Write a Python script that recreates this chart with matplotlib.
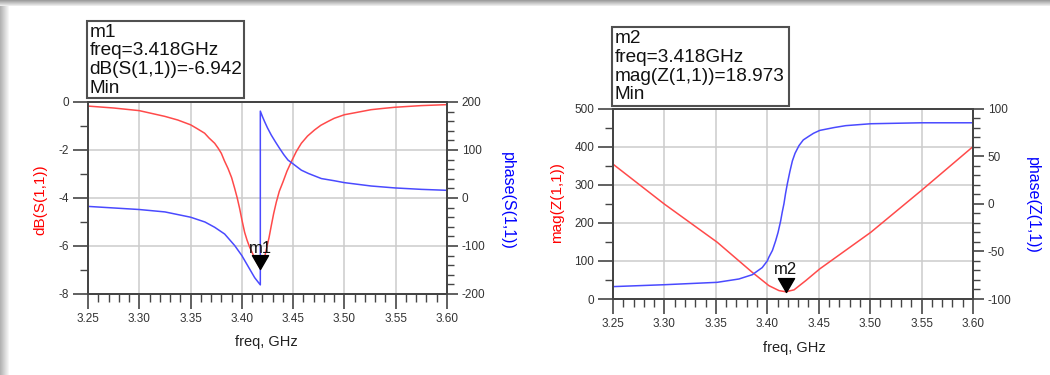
import matplotlib
matplotlib.use('Agg')
import matplotlib.pyplot as plt
from matplotlib.path import Path
from matplotlib.patches import Rectangle
from matplotlib.ticker import MultipleLocator, FormatStrFormatter

plt.rcParams['font.family'] = ['Liberation Sans', 'DejaVu Sans']
plt.rcParams['axes.unicode_minus'] = False

# ---------------- data ----------------
freq_db = [3.25, 3.275, 3.30, 3.325, 3.3375, 3.35, 3.356, 3.3637, 3.368, 3.3735,
           3.377, 3.38, 3.383, 3.3865, 3.390, 3.393, 3.3955, 3.3979, 3.400, 3.4027,
           3.405, 3.4076, 3.413, 3.418, 3.4215, 3.4239, 3.4265, 3.4287, 3.431,
           3.4336, 3.4365, 3.4401, 3.444, 3.4482, 3.453, 3.458, 3.464, 3.471, 3.477,
           3.484, 3.49, 3.50, 3.51, 3.526, 3.537, 3.549, 3.56, 3.575, 3.60]
s11_db = [-0.17, -0.25, -0.36, -0.60, -0.75, -0.95, -1.10, -1.30, -1.50, -1.72,
          -1.93, -2.14, -2.45, -2.77, -3.15, -3.60, -4.00, -4.45, -4.90, -5.43,
          -5.75, -6.05, -6.55, -6.942, -6.60, -6.13, -5.65, -5.15, -4.65,
          -4.17, -3.72, -3.33, -2.88, -2.49, -2.07, -1.72, -1.42, -1.16, -0.97,
          -0.81, -0.68, -0.53, -0.45, -0.32, -0.27, -0.22, -0.19, -0.15, -0.11]

freq_ph1 = [3.25, 3.30, 3.325, 3.35, 3.364, 3.3735, 3.3832, 3.393, 3.40, 3.4076,
            3.4125, 3.418, 3.418, 3.420, 3.4222, 3.425, 3.4287, 3.433, 3.4369,
            3.441, 3.445, 3.45, 3.458, 3.465, 3.4775, 3.49, 3.50, 3.526, 3.549,
            3.575, 3.60]
s11_phase = [-17.5, -24, -29, -40, -50, -61, -75, -99, -120, -148,
             -166, -181, 181, 170, 159, 146, 131, 116, 103,
             90, 79, 71, 58, 51, 40.5, 36, 32, 25, 21,
             18, 16]

freq_mag = [3.25, 3.30, 3.3513, 3.3854, 3.4016, 3.4114, 3.418, 3.426, 3.4373,
            3.451, 3.5006, 3.5503, 3.60]
z_mag = [354, 249, 149, 70, 35, 22, 18.973, 24, 48, 79, 175, 286, 400]

freq_ph2 = [3.25, 3.30, 3.3513, 3.3724, 3.3854, 3.3951, 3.40, 3.4016, 3.405,
            3.4081, 3.4105, 3.413, 3.4145, 3.4162, 3.4178, 3.4195, 3.422, 3.4244,
            3.427, 3.4308, 3.435, 3.4406, 3.445, 3.451, 3.465, 3.4763, 3.5006,
            3.55, 3.60]
z_phase = [-87, -85, -82.5, -79, -74.5, -67, -60, -56, -49,
           -39, -30, -18, -9, 0, 11, 21, 34, 45,
           53, 61, 67, 71, 74, 77, 80, 82, 84,
           85, 85]

m1_freq, m1_val = 3.418, -6.942
m2_freq, m2_val = 3.418, 18.973

m1_lines = ["m1", "freq=3.418GHz", "dB(S(1,1))=-6.942", "Min"]
m2_lines = ["m2", "freq=3.418GHz", "mag(Z(1,1))=18.973", "Min"]

# ---------------- figure ----------------
W, H = 1050, 375
fig = plt.figure(figsize=(W / 100, H / 100), dpi=100)
fig.patch.set_facecolor('white')


def fx(px):
    return px / W


def fy(py):
    return 1 - py / H


# page decoration (screenshot frame)
for i in range(6):
    g = 0.62 + i * 0.06
    fig.patches.append(Rectangle((0, fy(i + 1)), 1, 1 / H, transform=fig.transFigure,
                                 facecolor=(g, g, g), edgecolor='none', zorder=-5))
for i in range(9):
    g = 0.70 + i * 0.033
    fig.patches.append(Rectangle((fx(i), 0), 1 / W, fy(6), transform=fig.transFigure,
                                 facecolor=(g, g, g), edgecolor='none', zorder=-5))

RED_LINE = '#ff4a4a'
BLUE_LINE = '#4a4aff'
SPINE = '#454545'
GRID = '#cccccc'
TICKC = '#333333'


def style_axes(ax, ax2):
    for a in (ax, ax2):
        for s in a.spines.values():
            s.set_color(SPINE)
            s.set_linewidth(1.4)
    ax.tick_params(axis='both', which='major', length=11, width=1.2, color=SPINE,
                   labelsize=8.5, labelcolor=TICKC, pad=2.5, direction='out')
    ax.tick_params(axis='both', which='minor', length=6, width=1.0, color=SPINE,
                   direction='out')
    ax2.tick_params(axis='y', which='major', length=8, width=1.2, color=SPINE,
                    labelsize=8.5, labelcolor=TICKC, pad=2.5, direction='out')
    ax2.tick_params(axis='y', which='minor', length=5, width=1.0, color=SPINE,
                    direction='out')
    ax.grid(True, which='major', color=GRID, linewidth=1.1)
    ax.set_axisbelow(True)
    ax.xaxis.set_major_locator(MultipleLocator(0.05))
    ax.xaxis.set_minor_locator(MultipleLocator(0.01))
    ax.xaxis.set_major_formatter(FormatStrFormatter('%.2f'))


tri = Path([(-0.58, 1.0), (0.58, 1.0), (0.0, 0.0), (-0.58, 1.0)],
           [Path.MOVETO, Path.LINETO, Path.LINETO, Path.CLOSEPOLY])

# ---------------- left chart ----------------
ax1 = fig.add_axes([fx(88), fy(294), fx(447) - fx(88), fy(102) - fy(294)])
ax1b = ax1.twinx()
ax1.plot(freq_db, s11_db, color=RED_LINE, lw=1.1)
ax1b.plot(freq_ph1, s11_phase, color=BLUE_LINE, lw=1.1)
ax1.set_xlim(3.25, 3.60)
ax1.set_ylim(-8, 0)
ax1b.set_ylim(-200, 200)
ax1.yaxis.set_major_locator(MultipleLocator(2))
ax1.yaxis.set_minor_locator(MultipleLocator(1))
ax1b.yaxis.set_major_locator(MultipleLocator(100))
ax1b.yaxis.set_minor_locator(MultipleLocator(20))
ax1b.yaxis.set_major_formatter(FormatStrFormatter('%d'))
ax1.yaxis.set_major_formatter(FormatStrFormatter('%d'))
style_axes(ax1, ax1b)
ax1b.plot([m1_freq], [m1_val], marker=tri, markersize=20, color='black',
          transform=ax1.transData, clip_on=False, zorder=5)
ax1b.annotate('m1', xy=(m1_freq, m1_val), xycoords=ax1.transData,
              xytext=(0, 11.5), textcoords='offset points', ha='center',
              va='baseline', fontsize=12, color='#111111', zorder=6)

fig.text(fx(40), fy(200), 'dB(S(1,1))', color='red', rotation=90, fontsize=11,
         ha='center', va='center')
fig.text(fx(507), fy(201), 'phase(S(1,1))', color='blue', rotation=270, fontsize=11.5,
         ha='center', va='center')
fig.text(fx(266), fy(342), 'freq, GHz', color='#222222', fontsize=10.5,
         ha='center', va='center')

# ---------------- right chart ----------------
ax2 = fig.add_axes([fx(613), fy(299), fx(973) - fx(613), fy(108.5) - fy(299)])
ax2b = ax2.twinx()
ax2.plot(freq_mag, z_mag, color=RED_LINE, lw=1.1)
ax2b.plot(freq_ph2, z_phase, color=BLUE_LINE, lw=1.1)
ax2.set_xlim(3.25, 3.60)
ax2.set_ylim(0, 500)
ax2b.set_ylim(-100, 100)
ax2.yaxis.set_major_locator(MultipleLocator(100))
ax2.yaxis.set_minor_locator(MultipleLocator(50))
ax2b.yaxis.set_major_locator(MultipleLocator(50))
ax2b.yaxis.set_minor_locator(MultipleLocator(10))
ax2b.yaxis.set_major_formatter(FormatStrFormatter('%d'))
ax2.yaxis.set_major_formatter(FormatStrFormatter('%d'))
style_axes(ax2, ax2b)
ax2b.plot([m2_freq], [m2_val], marker=tri, markersize=20, color='black',
          transform=ax2.transData, clip_on=False, zorder=5)
ax2b.annotate('m2', xy=(m2_freq, m2_val), xycoords=ax2.transData,
              xytext=(0, 12.7), textcoords='offset points', ha='center',
              va='baseline', fontsize=12, color='#111111', zorder=6)

fig.text(fx(557), fy(203), 'mag(Z(1,1))', color='red', rotation=90, fontsize=11,
         ha='center', va='center')
fig.text(fx(1032), fy(205), 'phase(Z(1,1))', color='blue', rotation=270, fontsize=11.5,
         ha='center', va='center')
fig.text(fx(794), fy(348), 'freq, GHz', color='#222222', fontsize=10.5,
         ha='center', va='center')

# ---------------- marker boxes ----------------
def marker_box(x0, y0, x1, y1, tx, baselines, lines):
    fig.patches.append(Rectangle((fx(x0), fy(y1)), fx(x1) - fx(x0), fy(y0) - fy(y1),
                                 transform=fig.transFigure, facecolor='white',
                                 edgecolor='#505050', linewidth=1.5, zorder=10))
    for b, s in zip(baselines, lines):
        fig.text(fx(tx), fy(b), s, fontsize=13.7, color='#111111', ha='left',
                 va='baseline', zorder=11)


marker_box(87, 21, 244, 98, 89.5, [36.7, 55.2, 73.9, 92.6], m1_lines)
marker_box(612, 27, 788.5, 106, 614.5, [43.3, 61.9, 80.6, 99.3], m2_lines)

fig.savefig('out.png', dpi=100)
